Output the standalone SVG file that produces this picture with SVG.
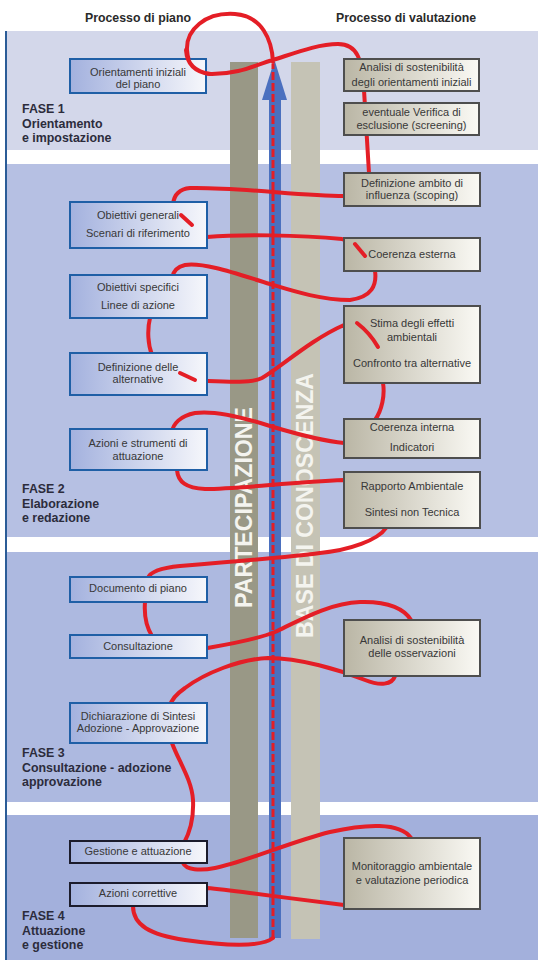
<svg xmlns="http://www.w3.org/2000/svg" width="538" height="960" viewBox="0 0 538 960">
<defs>
<linearGradient id="gl" x1="0" y1="0" x2="1" y2="0"><stop offset="0" stop-color="#a3b1de"/><stop offset="1" stop-color="#f6f7fb"/></linearGradient>
<linearGradient id="gr" x1="0" y1="0" x2="1" y2="0"><stop offset="0" stop-color="#bab6a5"/><stop offset="1" stop-color="#faf9f4"/></linearGradient>
<style>
.lb{fill:url(#gl);stroke:#1f5fa6;stroke-width:2}
.lk{fill:url(#gl);stroke:#1c1c2c;stroke-width:2}
.rb{fill:url(#gr);stroke:#4e4e4e;stroke-width:2}
.t{font-family:"Liberation Sans",Arial,sans-serif;font-size:11px;fill:#383838;text-anchor:middle}
.h{font-family:"Liberation Sans",Arial,sans-serif;font-size:12.3px;font-weight:bold;fill:#2a2a2a;text-anchor:middle}
.f{font-family:"Liberation Sans",Arial,sans-serif;font-size:12.4px;font-weight:bold;fill:#2c2c3c}
.v{font-family:"Liberation Sans",Arial,sans-serif;font-size:24px;font-weight:bold;fill:#f4f4ef}
.red{fill:none;stroke:#e41e26;stroke-width:4;stroke-linecap:round;stroke-linejoin:round}
</style>
</defs>
<rect width="538" height="960" fill="#ffffff"/>
<g id="bands">
<rect x="7" y="31" width="531" height="119" fill="#d3d7ea"/>
<rect x="7" y="164" width="531" height="373" fill="#b6c0e3"/>
<rect x="7" y="552" width="531" height="250" fill="#adb9e0"/>
<rect x="7" y="815" width="531" height="145" fill="#a3b0dc"/>
<rect x="5" y="31" width="2" height="929" fill="#2b5c97"/>
</g>
<g id="headers">
<text class="h" x="138" y="22">Processo di piano</text>
<text class="h" x="406" y="22">Processo di valutazione</text>
</g>
<g id="phases">
<text class="f" x="22" y="113">FASE 1</text><text class="f" x="22" y="127.5">Orientamento</text><text class="f" x="22" y="142">e impostazione</text>
<text class="f" x="22" y="493">FASE 2</text><text class="f" x="22" y="507.5">Elaborazione</text><text class="f" x="22" y="522">e redazione</text>
<text class="f" x="22" y="757">FASE 3</text><text class="f" x="22" y="771.5">Consultazione - adozione</text><text class="f" x="22" y="786">approvazione</text>
<text class="f" x="22" y="920">FASE 4</text><text class="f" x="22" y="934.5">Attuazione</text><text class="f" x="22" y="949">e gestione</text>
</g>
<g id="partecipazione">
<rect x="230" y="62" width="28" height="876" fill="#999886"/>
<text class="v" transform="translate(252,608) rotate(-90)" textLength="201" lengthAdjust="spacingAndGlyphs">PARTECIPAZIONE</text>
</g>
<g id="base-conoscenza">
<rect x="291" y="62" width="29" height="877" fill="#c5c3b5"/>
<text class="v" transform="translate(313,638) rotate(-90)" textLength="265" lengthAdjust="spacingAndGlyphs">BASE DI CONOSCENZA</text>
</g>
<g id="arrow">
<rect x="269" y="98" width="12" height="840" fill="#4b70bf"/>
<polygon points="274.5,60 262,100 287,100" fill="#4b70bf"/>
</g>
<g id="connectors">
<line x1="273" y1="938" x2="273" y2="64" stroke="#e41e26" stroke-width="3" stroke-dasharray="8,3"/>
<path class="red" d="M273,62 C272,40 262,16 235,14 C205,12 186,30 187,50 C188,68 198,74 212,74 C240,74 255,65 273,60 C295,53 318,44 338,44 C358,44 362,60 364,90 L369,173 L350,190 L344,196 C300,196 240,187 190,188 C178,189 174,196 173,204 L192,225 L207,237 C240,234 300,235 342,239 C350,242 360,250 372,262 L375,271 C377,285 372,297 350,300 C320,300 290,290 270,284 C240,275 205,262 185,265 C176,267 173,272 172,278 L150,318 C147,330 148,345 152,355 L195,380 L207,381 C230,382 252,383 262,378 C280,368 310,340 344,325 L378,347 L383,383 C385,395 382,410 375,420 L350,440 L344,443 C320,441 290,432 270,426 C245,418 215,410 195,413 C180,416 173,424 172,432 L177,470 C178,482 186,488 205,489 C240,489 290,482 344,480 L380,510 L386,528 C378,540 350,550 320,553 C290,557 230,562 180,566 C160,568 150,572 148,578 L145,602 C144,615 147,628 152,636 L200,645 L207,648 C230,644 255,640 275,632 C300,620 330,603 360,602 C390,601 405,610 411,620 L395,676 C392,685 380,686 365,680 C340,670 300,658 268,658 C240,659 205,673 185,688 C175,695 171,700 170,706 L172,743 C178,760 192,780 193,800 C194,820 190,832 184,843 L183,863 C186,870 200,871 215,868 C245,862 290,842 330,832 C365,824 400,822 411,838 L350,900 L344,905 C320,902 280,897 250,893 C235,891 220,889 207,888 L140,895 L133,906 C133,925 150,935 185,940 C220,945 260,948 273,938"/>
</g>
<g id="n-orientamenti">
<rect class="lb" x="70" y="59" width="136" height="34"/>
<text class="t" x="138" y="75.5">Orientamenti iniziali</text><text class="t" x="138" y="87.5">del piano</text>
</g>
<g id="n-obiettivi-generali">
<rect class="lb" x="70" y="202" width="137" height="46"/>
<text class="t" x="138" y="219">Obiettivi generali</text><text class="t" x="138" y="237">Scenari di riferimento</text>
</g>
<g id="n-obiettivi-specifici">
<rect class="lb" x="70" y="275" width="137" height="43"/>
<text class="t" x="138" y="291">Obiettivi specifici</text><text class="t" x="138" y="309">Linee di azione</text>
</g>
<g id="n-alternative">
<rect class="lb" x="70" y="353" width="137" height="42"/>
<text class="t" x="138" y="371">Definizione delle</text><text class="t" x="138" y="383">alternative</text>
</g>
<g id="n-azioni-strumenti">
<rect class="lb" x="70" y="429" width="137" height="41"/>
<text class="t" x="138" y="447">Azioni e strumenti di</text><text class="t" x="138" y="460">attuazione</text>
</g>
<g id="n-documento">
<rect class="lb" x="70" y="577" width="137" height="25"/>
<text class="t" x="138" y="592">Documento di piano</text>
</g>
<g id="n-consultazione">
<rect class="lb" x="70" y="635" width="137" height="23"/>
<text class="t" x="138" y="650">Consultazione</text>
</g>
<g id="n-dichiarazione">
<rect class="lb" x="70" y="703" width="137" height="40"/>
<text class="t" x="138" y="720">Dichiarazione di Sintesi</text><text class="t" x="138" y="732">Adozione - Approvazione</text>
</g>
<g id="n-gestione">
<rect class="lk" x="70" y="841" width="137" height="22"/>
<text class="t" x="138" y="855">Gestione e attuazione</text>
</g>
<g id="n-azioni-correttive">
<rect class="lk" x="70" y="883" width="137" height="23"/>
<text class="t" x="138" y="897">Azioni correttive</text>
</g>
<g id="n-analisi-orientamenti">
<rect class="rb" x="344" y="59" width="135" height="32"/>
<text class="t" x="411.5" y="71">Analisi di sostenibilità</text><text class="t" x="411.5" y="86">degli orientamenti iniziali</text>
</g>
<g id="n-screening">
<rect class="rb" x="344" y="103" width="135" height="32"/>
<text class="t" x="411.5" y="116">eventuale Verifica di</text><text class="t" x="411.5" y="129">esclusione (screening)</text>
</g>
<g id="n-scoping">
<rect class="rb" x="344" y="173" width="136" height="33"/>
<text class="t" x="412" y="187">Definizione ambito di</text><text class="t" x="412" y="199">influenza (scoping)</text>
</g>
<g id="n-coerenza-esterna">
<rect class="rb" x="344" y="238" width="136" height="33"/>
<text class="t" x="412" y="258">Coerenza esterna</text>
</g>
<g id="n-stima">
<rect class="rb" x="344" y="306" width="136" height="77"/>
<text class="t" x="412" y="327">Stima degli effetti</text><text class="t" x="412" y="341">ambientali</text><text class="t" x="412" y="367">Confronto tra alternative</text>
</g>
<g id="n-coerenza-interna">
<rect class="rb" x="344" y="419" width="136" height="39"/>
<text class="t" x="412" y="431">Coerenza interna</text><text class="t" x="412" y="451">Indicatori</text>
</g>
<g id="n-rapporto">
<rect class="rb" x="344" y="472" width="136" height="56"/>
<text class="t" x="412" y="490">Rapporto Ambientale</text><text class="t" x="412" y="516">Sintesi non Tecnica</text>
</g>
<g id="n-analisi-osservazioni">
<rect class="rb" x="344" y="620" width="136" height="56"/>
<text class="t" x="412" y="644">Analisi di sostenibilità</text><text class="t" x="412" y="657">delle osservazioni</text>
</g>
<g id="n-monitoraggio">
<rect class="rb" x="344" y="838" width="136" height="71"/>
<text class="t" x="412" y="870">Monitoraggio ambientale</text><text class="t" x="412" y="884">e valutazione periodica</text>
</g>
<g id="connector-overlays">
<path class="red" d="M186,50 C187,64 195,72 210,74"/>
<path class="red" d="M181,215 L192,225"/>
<path class="red" d="M355,244 L365,256"/>
<path class="red" d="M180,373 L195,380"/>
<path class="red" d="M357,323 Q370,333 378,347"/>
</g>
</svg>
